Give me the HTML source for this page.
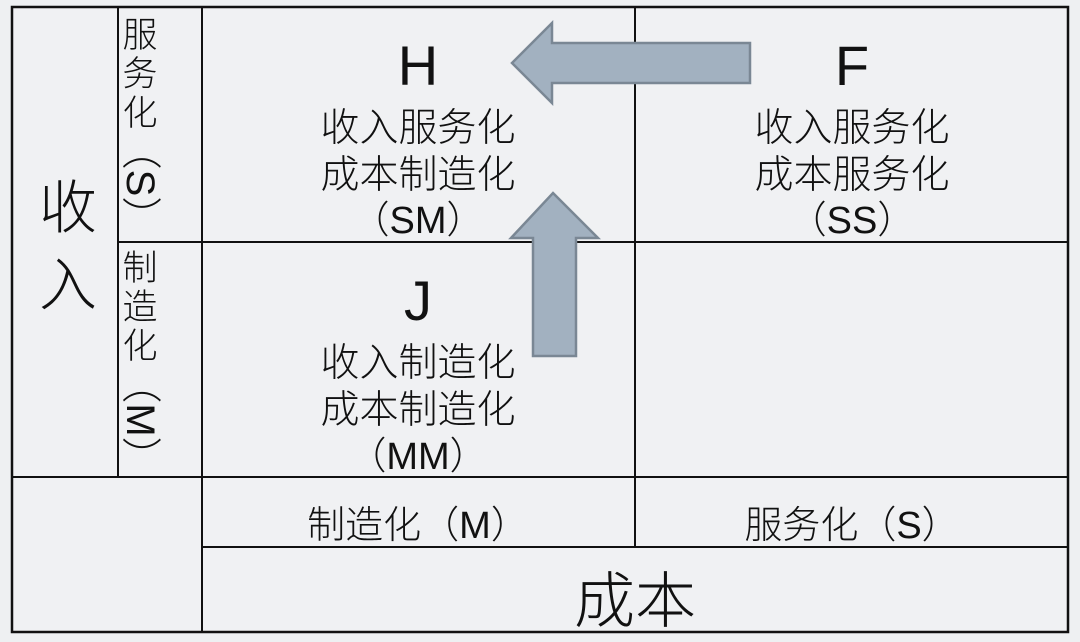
<!DOCTYPE html>
<html><head><meta charset="utf-8"><style>
html,body{margin:0;padding:0;background:#fff}
svg{display:block}
text{font-family:"Liberation Sans","Noto Sans CJK SC",sans-serif;fill:#111;font-weight:300}
</style></head><body>
<svg width="1080" height="642" viewBox="0 0 1080 642">
<rect x="0" y="0" width="1080" height="642" fill="#eef0f2"/>
<rect x="12" y="7" width="1056" height="625" fill="#f0f1f3" stroke="#111" stroke-width="2.5"/>
<g stroke="#111" stroke-width="2">
<line x1="118" y1="7" x2="118" y2="477"/>
<line x1="202" y1="7" x2="202" y2="632"/>
<line x1="635" y1="7" x2="635" y2="547"/>
<line x1="118" y1="242" x2="1068" y2="242"/>
<line x1="12" y1="477" x2="1068" y2="477"/>
<line x1="202" y1="547" x2="1068" y2="547"/>
</g>
<g fill="#a2b1c0" stroke="#7a8794" stroke-width="2.5">
<polygon points="512,63 552,23 552,43 750,43 750,83 552,83 552,103"/>
<polygon points="553,193 598,238 576,238 576,356 533,356 533,238 511,238"/>
</g>
<g text-anchor="middle">
<text x="68" y="228" font-size="58">收</text>
<text x="68" y="305" font-size="58">入</text>
<text x="140" y="47" font-size="35">服</text>
<text x="140" y="86" font-size="35">务</text>
<text x="140" y="125" font-size="35">化</text>
<text transform="translate(140,183) rotate(90)" font-size="40" dominant-baseline="central">（S）</text>
<text x="140" y="280" font-size="35">制</text>
<text x="140" y="319" font-size="35">造</text>
<text x="140" y="358" font-size="35">化</text>
<text transform="translate(140,420) rotate(90)" font-size="40" dominant-baseline="central">（M）</text>
<text x="418" y="85" font-size="56">H</text>
<text x="418" y="141" font-size="39">收入服务化</text>
<text x="418" y="188" font-size="39">成本制造化</text>
<text x="418" y="233" font-size="38">（SM）</text>
<text x="852" y="85" font-size="56">F</text>
<text x="852" y="141" font-size="39">收入服务化</text>
<text x="852" y="188" font-size="39">成本服务化</text>
<text x="852" y="233" font-size="38">（SS）</text>
<text x="418" y="320" font-size="56">J</text>
<text x="418" y="376" font-size="39">收入制造化</text>
<text x="418" y="423" font-size="39">成本制造化</text>
<text x="418" y="469" font-size="38">（MM）</text>
<text x="418" y="538" font-size="38">制造化（M）</text>
<text x="852" y="538" font-size="38">服务化（S）</text>
<text x="635" y="622" font-size="61">成本</text>
</g>
</svg>
</body></html>
